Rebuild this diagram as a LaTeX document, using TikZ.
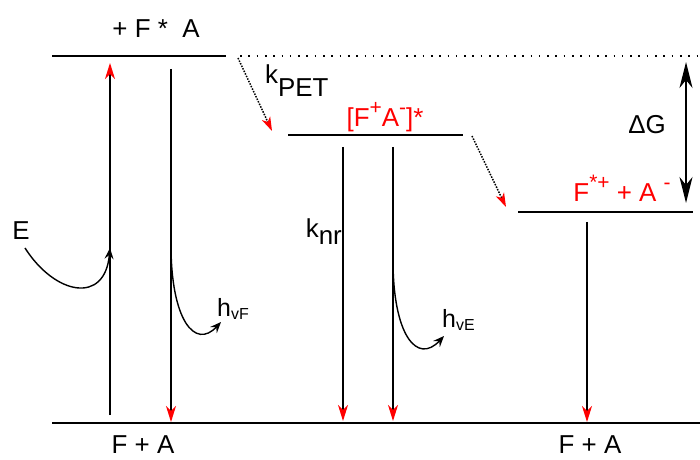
\documentclass[tikz,border=0pt]{standalone}
\usepackage{fontspec}
\setmainfont{Liberation Sans}
\usetikzlibrary{arrows.meta}

\newcommand\upidx[1]{\raisebox{0.5em}{\fontsize{21}{21}\selectfont #1}}
\newcommand\lowidx[2]{\raisebox{#1}{\fontsize{16}{16}\selectfont #2}}

\begin{document}
\begin{tikzpicture}[
    x=1bp, y=-1bp,
    level/.style={line width=2.2bp},
    lbl/.style={font=\fontsize{26}{28}\selectfont, inner sep=0pt},
    redlbl/.style={lbl, text=red},
    sublbl/.style={font=\fontsize{25}{27}\selectfont, inner sep=0pt},
    decay/.style={line width=1.3bp, -{Stealth[red, length=16bp, width=10bp, inset=5bp]}},
    transfer/.style={line width=1.5bp, dash pattern=on 1.5bp off 1.3bp, -{Stealth[red, length=14bp, width=9bp, inset=4bp]}},
    photon/.style={line width=1.4bp, -{Stealth[black, length=11bp, width=9bp, inset=4bp]}},
    gap/.style={line width=1.4bp, {Stealth[length=26bp, width=13bp, inset=8bp]}-{Stealth[length=26bp, width=13bp, inset=8bp]}}
]
\useasboundingbox (0,0) rectangle (700,460);

% levels
\coordinate (locA) at (52,56);   \coordinate (locB) at (226,56);
\coordinate (ctA) at (288,135);  \coordinate (ctB) at (463,135);
\coordinate (csA) at (518,212);  \coordinate (csB) at (693,212);
\coordinate (gndA) at (52,423);  \coordinate (gndB) at (700,423);
\coordinate (refA) at (240,56);  \coordinate (refB) at (700,56);

\draw[level] (locA) -- (locB);
\draw[level] (ctA) -- (ctB);
\draw[level] (csA) -- (csB);
\draw[level] (gndA) -- (gndB);
\draw[line width=1.6bp, dash pattern=on 1.6bp off 6.7bp] (refA) -- (refB);

\node[lbl, anchor=base] (locl) at (156,38) {+ F * \ A};
\node[redlbl, anchor=base] (ctl) at (385,127) {[F\upidx{+}A\upidx{-}]*};
\node[redlbl, anchor=base] (csl) at (622,202) {F\upidx{*}\upidx{+} + A \upidx{-}};
\node[lbl, anchor=base] (gndl) at (143,453) {F + A};
\node[lbl, anchor=base] (gndr) at (590,453) {F + A};

% excitation and emission F
\coordinate (absA) at (110,415); \coordinate (absB) at (110,63);
\coordinate (emA) at (171,69);   \coordinate (emB) at (171,422);
\draw[decay] (absA) -- (absB);
\draw[decay] (emA) -- (emB);

\node[lbl] (exc) at (21,231) {E};
\coordinate (excA) at (25,248);  \coordinate (excB) at (110,248);
\draw[photon] (excA) .. controls (55,295) and (105,305) .. (excB);

\coordinate (hvFa) at (171,245); \coordinate (hvFb) at (221,322);
\draw[photon] (hvFa) .. controls (171,320) and (195,350) .. (hvFb);
\node[sublbl, anchor=base west] (hvFl) at (217,317) {h\lowidx{-0.1em}{vF}};

% electron transfer
\coordinate (petA) at (238,58);  \coordinate (petB) at (272,131);
\draw[transfer] (petA) -- (petB);
\node[lbl, anchor=base west] (kpet) at (265,84) {k\raisebox{-0.5em}{PET}};

\coordinate (ctsA) at (472,136); \coordinate (ctsB) at (506,207);
\draw[transfer] (ctsA) -- (ctsB);

% charge transfer state
\coordinate (nrA) at (343,147);  \coordinate (nrB) at (343,421);
\coordinate (ctemA) at (393,147); \coordinate (ctemB) at (393,421);
\draw[decay] (nrA) -- (nrB);
\draw[decay] (ctemA) -- (ctemB);
\node[lbl, anchor=base east] (knr) at (342,238) {k\raisebox{-0.25em}{nr}};

\coordinate (hvEa) at (393,260); \coordinate (hvEb) at (444,336);
\draw[photon] (hvEa) .. controls (393,335) and (417,365) .. (hvEb);
\node[sublbl, anchor=base west] (hvEl) at (442,328) {h\lowidx{-0.1em}{vE}};

% charge separated state
\coordinate (csdA) at (587,222); \coordinate (csdB) at (587,422);
\draw[decay] (csdA) -- (csdB);

\coordinate (dgA) at (686,62);   \coordinate (dgB) at (686,203);
\draw[gap] (dgA) -- (dgB);
\node[lbl] (dgl) at (647,125) {ΔG};

\end{tikzpicture}
\end{document}
